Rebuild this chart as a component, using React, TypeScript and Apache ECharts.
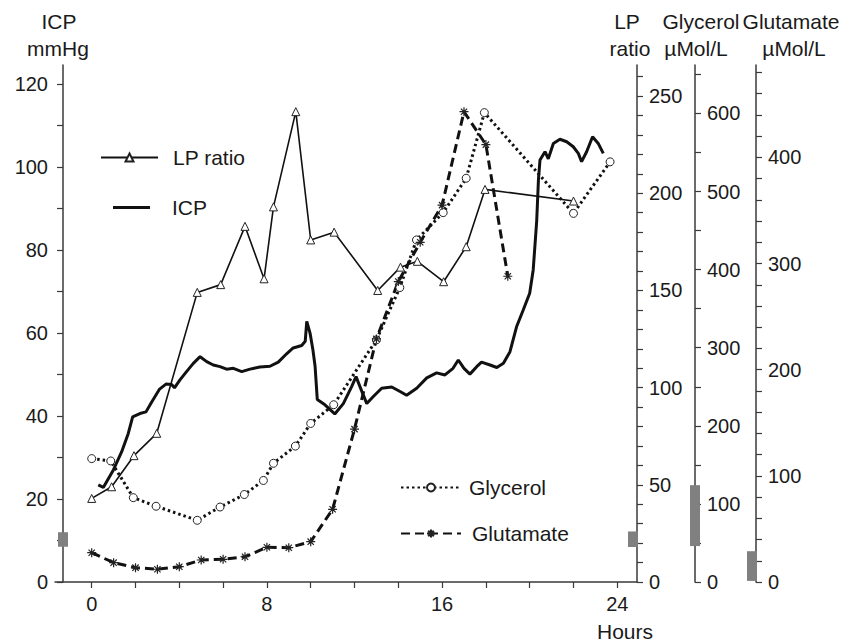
import { useEffect, useRef } from 'react';
import * as echarts from 'echarts';

// ---------- data ----------
const icpHours = [0.3, 0.53, 0.99, 1.37, 1.67, 1.87, 2.2, 2.48, 2.74, 3.1, 3.39, 3.65, 3.78, 4.03, 4.33, 4.64, 4.95, 5.25, 5.55, 5.86, 6.16, 6.47, 6.85, 7.23, 7.68, 8.14, 8.52, 8.9, 9.2, 9.59, 9.75, 9.82, 9.97, 10.1, 10.2, 10.3, 10.65, 11.1, 11.49, 11.87, 12.07, 12.33, 12.56, 12.86, 13.24, 13.7, 14.08, 14.38, 14.84, 15.3, 15.75, 16.13, 16.5, 16.74, 17.0, 17.27, 17.58, 17.8, 18.19, 18.5, 18.8, 19.1, 19.4, 19.7, 20.0, 20.16, 20.32, 20.4, 20.47, 20.7, 20.85, 21.08, 21.38, 21.69, 21.99, 22.22, 22.37, 22.6, 22.87, 23.13, 23.36];
const icpValues = [23.4, 22.8, 27, 31.4, 35.8, 39.8, 40.6, 41, 43.4, 46.5, 47.7, 47.6, 46.8, 48.7, 50.7, 52.7, 54.3, 53.1, 52.3, 51.9, 51.3, 51.5, 50.7, 51.3, 51.8, 52, 53, 55, 56.4, 57, 58, 62.8, 60, 56, 52, 44, 42.7, 40.5, 43, 47.1, 49.5, 46, 43, 44.7, 46.7, 47, 45.9, 45, 46.7, 49.2, 50.4, 49.9, 51.5, 53.5, 51.5, 50.1, 51.9, 53, 52.3, 51.7, 52.7, 55.5, 61.5, 65.5, 69.6, 75.2, 87, 97, 101.7, 103.7, 102, 105.7, 106.7, 106.1, 104.9, 103.3, 101.3, 103.7, 107.3, 105.7, 103.3];

const lpHours = [0, 0.91, 1.93, 2.97, 4.82, 5.89, 7.0, 7.87, 8.3, 9.32, 10.0, 11.07, 13.06, 14.1, 14.87, 16.07, 17.1, 17.96, 22.0];
const lpValues = [43, 49, 65, 76.5, 149, 153, 183, 156, 193, 242, 176, 180, 150, 162, 165, 154.5, 172.5, 202, 196];

const glyHours = [0, 0.87, 1.9, 2.94, 4.82, 5.86, 6.97, 7.84, 8.3, 9.3, 10.0, 11.05, 13.0, 14.07, 14.83, 16.05, 17.1, 17.93, 22.0, 23.67];
const glyValues = [158, 155, 108, 97, 79, 96, 112, 130, 152, 174, 203, 227, 310, 377, 438, 473, 517, 601, 472, 538];

const gluHours = [0, 1, 2, 3, 4, 5, 6, 7, 8, 9, 10, 11, 12, 13, 14, 15, 16, 17, 18, 19];
const gluValues = [27.6, 18.2, 13.5, 12, 14.4, 20.7, 21.4, 23.8, 32.7, 32.3, 38, 68.5, 144, 229, 283, 320, 355, 443, 412, 288];

// normal ranges (grey bars on each axis)
const icpNormal = [8.5, 12];
const lpNormal = [18, 26];
const glyNormal = [46, 124];
const gluNormal = [1, 29];

// ticks and labels
const hourTicks = [0, 2, 4, 6, 8, 10, 12, 14, 16, 18, 20, 22, 24];
const hourLabels = [0, 8, 16, 24];
const icpTicks = [0, 10, 20, 30, 40, 50, 60, 70, 80, 90, 100, 110, 120];
const icpLabels = [0, 20, 40, 60, 80, 100, 120];
const lpTicks = [0, 10, 20, 30, 40, 50, 60, 70, 80, 90, 100, 110, 120, 130, 140, 150, 160, 170, 180, 190, 200, 210, 220, 230, 240, 250, 260];
const lpLabels = [0, 50, 100, 150, 200, 250];
const glyTicks = [0, 50, 100, 150, 200, 250, 300, 350, 400, 450, 500, 550, 600, 650];
const glyLabels = [0, 100, 200, 300, 400, 500, 600];
const gluTicks = [0, 20, 40, 60, 80, 100, 120, 140, 160, 180, 200, 220, 240, 260, 280, 300, 320, 340, 360, 380, 400, 420, 440, 460, 480];
const gluLabels = [0, 100, 200, 300, 400];

const FONT = '"Liberation Sans", Arial, sans-serif';
const INK = '#1a1a1a';
const AXIS = '#3a3a3a';

const asterisk = 'path://M5 0 L5 10 M0 5 L10 5 M1.5 1.5 L8.5 8.5 M1.5 8.5 L8.5 1.5';

const zip = (xs: number[], ys: number[]) => xs.map((x, i) => [x, ys[i]]);

function yAxisBase(position: 'left' | 'right', offset: number, max: number, ticks: number[], labels: number[], margin: number) {
  return {
    type: 'value',
    position,
    offset,
    min: 0,
    max,
    splitLine: { show: false },
    axisLine: { show: true, onZero: false, lineStyle: { color: AXIS, width: 1.5 } },
    axisTick: { show: true, inside: false, length: 6, lineStyle: { color: AXIS, width: 1.2 }, customValues: ticks },
    axisLabel: { show: true, margin, color: INK, fontSize: 20, fontFamily: FONT, customValues: labels },
  };
}

function barSeries(name: string, yAxisIndex: number, range: number[], place: (cs: any) => number) {
  return {
    name,
    type: 'custom',
    yAxisIndex,
    clip: false,
    silent: true,
    z: 5,
    data: [[0, range[0], range[1]]],
    renderItem: (params: any, api: any) => {
      const lo = api.coord([0, api.value(1)]);
      const hi = api.coord([0, api.value(2)]);
      const cx = place(params.coordSys);
      return {
        type: 'rect',
        shape: { x: cx - 5, y: hi[1], width: 10, height: lo[1] - hi[1] },
        style: { fill: '#808080' },
      };
    },
  };
}

function legendItem(item: any, left: number, centerY: number, width: number, height: number, pad: number) {
  return {
    show: true,
    data: [item],
    left,
    top: centerY - 12,
    itemWidth: width,
    itemHeight: height,
    selectedMode: false,
    padding: 0,
    textStyle: { fontSize: 21, fontFamily: FONT, color: INK, padding: [0, 0, 0, pad] },
  };
}

function title(text: string, x: number, y: number) {
  return {
    type: 'text',
    x,
    y,
    style: { text, fill: INK, fontSize: 21, fontFamily: FONT, textAlign: 'center', textVerticalAlign: 'middle' },
  };
}

export default function App() {
  const ref = useRef<HTMLDivElement>(null);

  useEffect(() => {
    document.body.style.margin = '0';
    if (!ref.current) return;
    const chart = echarts.init(ref.current, null, { renderer: 'svg' });

    const option: any = {
      animation: false,
      backgroundColor: '#ffffff',
      grid: { left: 55, right: 219, top: 65, bottom: 60, containLabel: false },
      xAxis: {
        type: 'value',
        min: -1.676,
        max: 24.9,
        splitLine: { show: false },
        axisLine: { show: true, onZero: false, lineStyle: { color: AXIS, width: 1.5 } },
        axisTick: { show: true, length: 6, lineStyle: { color: AXIS, width: 1.2 }, customValues: hourTicks },
        axisLabel: { margin: 12, color: INK, fontSize: 20, fontFamily: FONT, customValues: hourLabels },
      },
      yAxis: [
        yAxisBase('left', -8, 124.6, icpTicks, icpLabels, 15),
        yAxisBase('right', 0, 266, lpTicks, lpLabels, 12),
        yAxisBase('right', 58, 662, glyTicks, glyLabels, 12),
        yAxisBase('right', 119, 487, gluTicks, gluLabels, 12),
      ],
      legend: [
        legendItem('LP ratio', 100, 159, 57, 10, 10),
        legendItem({ name: 'ICP', icon: 'rect' }, 113, 209, 37, 3, 17),
        legendItem('Glycerol', 400, 489, 60, 10, 3),
        legendItem('Glutamate', 400, 535, 60, 10, 6),
      ],
      graphic: [
        title('ICP', 59, 21),
        title('mmHg', 58, 48),
        title('LP', 627, 21),
        title('ratio', 630, 48),
        title('Glycerol', 701, 21),
        title('\u00b5Mol/L', 696, 48),
        title('Glutamate', 791, 21),
        title('\u00b5Mol/L', 794, 48),
        title('Hours', 625, 631),
      ],
      series: [
        {
          name: 'LP ratio',
          type: 'line',
          yAxisIndex: 1,
          data: zip(lpHours, lpValues),
          symbol: 'triangle',
          symbolSize: 8,
          itemStyle: { color: '#ffffff', borderColor: '#222', borderWidth: 1 },
          lineStyle: { color: '#111', width: 1.6, type: 'solid' },
          z: 3,
        },
        {
          name: 'ICP',
          type: 'line',
          yAxisIndex: 0,
          data: zip(icpHours, icpValues),
          symbol: 'none',
          itemStyle: { color: '#111' },
          lineStyle: { color: '#111', width: 3 },
          z: 2,
        },
        {
          name: 'Glycerol',
          type: 'line',
          yAxisIndex: 2,
          data: zip(glyHours, glyValues),
          symbol: 'circle',
          symbolSize: 8,
          itemStyle: { color: '#ffffff', borderColor: '#222', borderWidth: 1 },
          lineStyle: { color: '#111', width: 3, type: [2.5, 3] },
          z: 3,
        },
        {
          name: 'Glutamate',
          type: 'line',
          yAxisIndex: 3,
          data: zip(gluHours, gluValues),
          symbol: asterisk,
          symbolSize: 9,
          itemStyle: { color: 'none', borderColor: '#222', borderWidth: 1.2 },
          lineStyle: { color: '#111', width: 3, type: [9, 5] },
          z: 3,
        },
        barSeries('icpNormalBar', 0, icpNormal, (cs) => cs.x + 8),
        barSeries('lpNormalBar', 1, lpNormal, (cs) => cs.x + cs.width - 4),
        barSeries('glyNormalBar', 2, glyNormal, (cs) => cs.x + cs.width + 58),
        barSeries('gluNormalBar', 3, gluNormal, (cs) => cs.x + cs.width + 119 - 4),
      ],
    };

    chart.setOption(option);
    return () => chart.dispose();
  }, []);

  return <div ref={ref} style={{ width: 856, height: 642 }} />;
}
